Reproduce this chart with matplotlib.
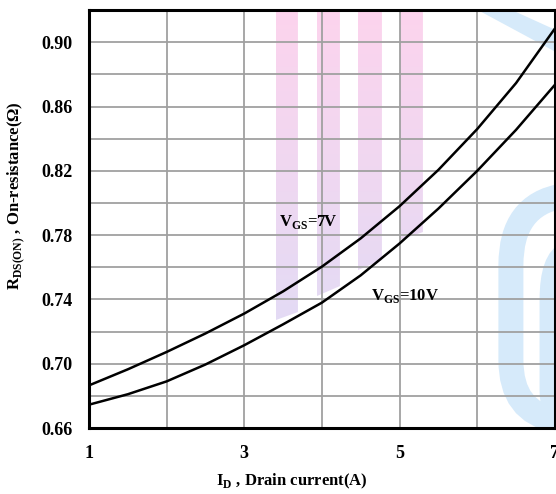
import numpy as np
import matplotlib
matplotlib.use("Agg")
import matplotlib.pyplot as plt
from matplotlib.patches import Polygon, PathPatch
from matplotlib.path import Path

# I_D (A) and R_DS(ON) (ohm)
drain_current = [1.0, 1.5, 2.0, 2.5, 3.0, 3.5, 4.0, 4.5, 5.0, 5.5, 6.0, 6.5, 7.0]
rds_vgs7 = [0.6865, 0.6965, 0.7073, 0.7188, 0.7312, 0.7450, 0.7604, 0.7780,
            0.7980, 0.8206, 0.8460, 0.8746, 0.9085]
rds_vgs10 = [0.6745, 0.6810, 0.6890, 0.6995, 0.7115, 0.7245, 0.7380, 0.7550,
             0.7748, 0.7965, 0.8200, 0.8455, 0.8735]

x_ticks = [1, 3, 5, 7]
y_ticks = [0.66, 0.70, 0.74, 0.78, 0.82, 0.86, 0.90]

plt.rcParams['font.family'] = ['Liberation Serif', 'DejaVu Serif']
plt.rcParams['mathtext.fontset'] = 'custom'
plt.rcParams['mathtext.rm'] = 'Liberation Serif:bold'
plt.rcParams['mathtext.bf'] = 'Liberation Serif:bold'

fig = plt.figure(figsize=(5.56, 4.94), dpi=100)
ax = fig.add_axes([0.160, 0.1336, 0.838, 0.846])

# faint watermark in the background (pink stripes + blue arcs)
W, H = 466.0, 418.0
def fx(px):
    return (px - 89) / W
def fy(py):
    return (428 - py) / H

grad = np.linspace(0, 1, 256)[:, None]
top_c = np.array([0.99, 0.83, 0.93])
bot_c = np.array([0.89, 0.86, 0.96])
img = top_c[None, None, :] * (1 - grad[:, :, None]) + bot_c[None, None, :] * grad[:, :, None]
stripes = [(276, 298, 320, 312), (317, 340, 296, 286), (358, 382, 270, 260), (400, 423, 240, 232)]
for x0, x1, yb0, yb1 in stripes:
    poly = Polygon([(fx(x0), fy(yb0)), (fx(x1), fy(yb1)), (fx(x1), 1), (fx(x0), 1)],
                   closed=True, transform=ax.transAxes, facecolor='none', edgecolor='none')
    ax.add_patch(poly)
    im = ax.imshow(img, extent=[fx(x0), fx(x1), fy(330), 1], transform=ax.transAxes,
                   aspect='auto', zorder=0, origin='upper')
    im.set_clip_path(poly)

blue = '#d6eafa'
band = Polygon([(fx(478), 1), (fx(512), 1), (fx(556), fy(30)), (fx(556), fy(52))],
               closed=True, transform=ax.transAxes, facecolor=blue, edgecolor='none', zorder=0)
ax.add_patch(band)
codes = [Path.MOVETO, Path.CURVE3, Path.CURVE3, Path.LINETO, Path.CURVE3, Path.CURVE3]
outer = Path([(fx(562), fy(196)), (fx(511), fy(205)), (fx(511), fy(265)),
              (fx(511), fy(360)), (fx(511), fy(412)), (fx(556), fy(420))], codes)
inner = Path([(fx(566), fy(250)), (fx(548), fy(258)), (fx(548), fy(300)),
              (fx(548), fy(390)), (fx(548), fy(414)), (fx(560), fy(422))], codes)
ax.add_patch(PathPatch(outer, transform=ax.transAxes, fill=False, edgecolor=blue,
                       lw=18, capstyle='butt', zorder=0))
ax.add_patch(PathPatch(inner, transform=ax.transAxes, fill=False, edgecolor=blue,
                       lw=12, capstyle='butt', zorder=0))

ax.plot(drain_current, rds_vgs7, color='black', lw=1.8, zorder=3)
ax.plot(drain_current, rds_vgs10, color='black', lw=1.8, zorder=3)

ax.text(3.45, 0.788, r'V$_{\mathregular{GS}}$=7V', fontsize=12, fontweight='bold', va='center', zorder=4)
ax.text(4.63, 0.742, r'V$_{\mathregular{GS}}$=10V', fontsize=12, fontweight='bold', va='center', zorder=4)

ax.set_xlim(1, 7)
ax.set_ylim(0.66, 0.92)
ax.set_xticks(np.arange(1, 7.01, 1), minor=True)
ax.set_yticks(np.arange(0.66, 0.921, 0.02), minor=True)
ax.set_xticks(x_ticks)
ax.set_yticks(y_ticks)
ax.set_xticklabels([str(v) for v in x_ticks])
ax.set_yticklabels([f'{v:.2f}' for v in y_ticks])
ax.grid(True, which='both', color='#a0a0a0', lw=1.3, zorder=1)
ax.set_axisbelow(True)
ax.tick_params(which='both', length=0, labelsize=13, pad=12)
for lab in ax.get_xticklabels() + ax.get_yticklabels():
    lab.set_fontweight('bold')
for sp in ax.spines.values():
    sp.set_linewidth(2.2)
    sp.set_zorder(5)

ax.set_xlabel(r'I$_{\mathregular{D}}$ , Drain current(A)', fontsize=12, fontweight='bold')
ax.set_ylabel(r'R$_{\mathregular{DS(ON)}}$ , On-resistance($\Omega$)', fontsize=12, fontweight='bold')
ax.xaxis.set_label_coords(fx(292), fy(472))
ax.yaxis.set_label_coords(fx(27), fy(196))

fig.savefig('out.png', dpi=100)
